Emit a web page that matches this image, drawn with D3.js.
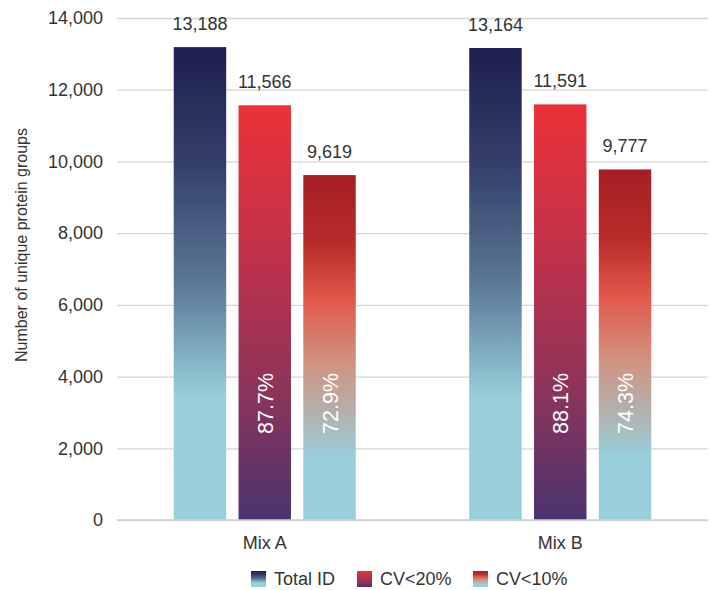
<!DOCTYPE html>
<html>
<head>
<meta charset="utf-8">
<script src="https://cdn.jsdelivr.net/npm/d3@7"></script>
<style>
  html, body { margin: 0; padding: 0; background: #fff; }
  svg { display: block; }
  svg text { font-family: "Liberation Sans", Arial, Helvetica, sans-serif; }
</style>
</head>
<body>
<svg id="chart" width="710" height="590"></svg>
<script>
// Data
const categories = ["Mix A", "Mix B"];
const seriesNames = ["Total ID", "CV<20%", "CV<10%"];
const totalID = [13188, 13164];
const cv20 = [11566, 11591];
const cv10 = [9619, 9777];
const cv20Pct = ["87.7%", "88.1%"];
const cv10Pct = ["72.9%", "74.3%"];
const yTicks = [0, 2000, 4000, 6000, 8000, 10000, 12000, 14000];
const yTitle = "Number of unique protein groups";

const seriesValues = [totalID, cv20, cv10];
const seriesPct = [null, cv20Pct, cv10Pct];

// Vertical gradients per series
const gradients = [
  [[0, "#1d1f4e"], [0.25, "#34406a"], [0.5, "#5b7896"], [0.74, "#98cfdb"], [1, "#98cfdb"]],
  [[0, "#ec3138"], [0.35, "#c2314a"], [0.7, "#8a345a"], [1, "#4a3370"]],
  [[0, "#a61f24"], [0.2, "#b82c2a"], [0.36, "#e2574a"], [0.55, "#cf9582"], [0.68, "#b5aeaa"], [0.82, "#98cfdb"], [1, "#98cfdb"]]
];

const svg = d3.select("#chart");
const margin = { left: 117, right: 2, top: 18, bottom: 70 };
const W = 710, H = 590;
const textColor = "#333";

const x0 = d3.scaleBand()
  .domain(categories)
  .range([margin.left, W - margin.right])
  .paddingInner(0.384)
  .paddingOuter(0.192);

const x1 = d3.scaleBand()
  .domain(seriesNames)
  .range([0, x0.bandwidth()])
  .paddingInner(0.19)
  .paddingOuter(0);

const y = d3.scaleLinear()
  .domain([0, 14000])
  .range([H - margin.bottom, margin.top]);

// gradient defs
const defs = svg.append("defs");
gradients.forEach((stops, i) => {
  const g = defs.append("linearGradient")
    .attr("id", "grad" + i)
    .attr("x1", 0).attr("y1", 0).attr("x2", 0).attr("y2", 1);
  stops.forEach(s => g.append("stop").attr("offset", s[0]).attr("stop-color", s[1]));
});

// gridlines + y axis
const yAxis = d3.axisLeft(y)
  .tickValues(yTicks)
  .tickSize(-(W - margin.right - margin.left))
  .tickPadding(14)
  .tickFormat(d3.format(","));

const gy = svg.append("g")
  .attr("transform", `translate(${margin.left},0)`)
  .call(yAxis)
  .attr("font-family", null)
  .attr("font-size", null);
gy.select(".domain").remove();
gy.selectAll(".tick line").attr("stroke", "#d6d6d6").attr("stroke-width", 1.3);
gy.selectAll(".tick text")
  .attr("fill", textColor)
  .style("font-size", "18px");

// bars
const groups = svg.append("g").selectAll("g")
  .data(categories)
  .join("g")
  .attr("transform", d => `translate(${x0(d)},0)`);

seriesNames.forEach((s, si) => {
  groups.append("rect")
    .attr("x", x1(s))
    .attr("width", x1.bandwidth())
    .attr("y", (d, ci) => y(seriesValues[si][ci]))
    .attr("height", (d, ci) => y(0) - y(seriesValues[si][ci]))
    .attr("fill", `url(#grad${si})`);

  groups.append("text")
    .attr("x", x1(s) + x1.bandwidth() / 2)
    .attr("y", (d, ci) => y(seriesValues[si][ci]) - 17)
    .attr("text-anchor", "middle")
    .attr("fill", textColor)
    .style("font-size", "18px")
    .text((d, ci) => d3.format(",")(seriesValues[si][ci]));

  if (seriesPct[si]) {
    groups.append("text")
      .attr("transform", () => `translate(${x1(s) + x1.bandwidth() / 2 + 1},${y(3250)}) rotate(-90)`)
      .attr("text-anchor", "middle")
      .attr("dominant-baseline", "central")
      .attr("fill", "#fff")
      .style("font-size", "21.5px")
      .text((d, ci) => seriesPct[si][ci]);
  }
});

// baseline
svg.append("line")
  .attr("x1", margin.left).attr("x2", W - margin.right)
  .attr("y1", y(0)).attr("y2", y(0))
  .attr("stroke", "#d0d0d0").attr("stroke-width", 1.5);

// category labels
svg.append("g").selectAll("text")
  .data(categories)
  .join("text")
  .attr("x", d => x0(d) + x0.bandwidth() / 2)
  .attr("y", 549)
  .attr("text-anchor", "middle")
  .attr("fill", textColor)
  .style("font-size", "18px")
  .text(d => d);

// y title
svg.append("text")
  .attr("transform", "translate(21,245) rotate(-90)")
  .attr("text-anchor", "middle")
  .attr("dominant-baseline", "central")
  .attr("fill", textColor)
  .style("font-size", "16px")
  .text(yTitle);

// legend
const legendX = [251, 357, 473];
const legend = svg.append("g").selectAll("g")
  .data(seriesNames)
  .join("g")
  .attr("transform", (d, i) => `translate(${legendX[i]},571)`);
legend.append("rect")
  .attr("width", 15).attr("height", 16)
  .attr("fill", (d, i) => `url(#grad${i})`);
legend.append("text")
  .attr("x", 23).attr("y", 8)
  .attr("dominant-baseline", "central")
  .attr("fill", textColor)
  .style("font-size", "18px")
  .text(d => d);
</script>
</body>
</html>
